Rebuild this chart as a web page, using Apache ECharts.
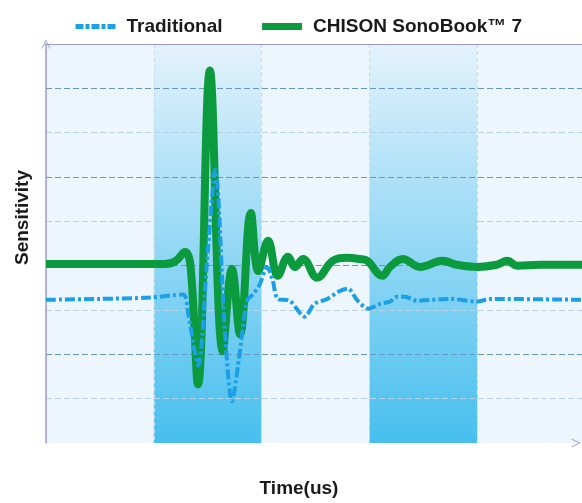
<!DOCTYPE html>
<html>
<head>
<meta charset="utf-8">
<script src="https://cdn.jsdelivr.net/npm/echarts@6/dist/echarts.min.js"></script>
<style>html,body{margin:0;padding:0;background:#fff}#c{width:582px;height:503px}</style>
</head>
<body>
<div id="c"></div>
<script>
// Time (x) in us-like units, sensitivity (y) in grid units
const seriesNames = ['Traditional', 'CHISON SonoBook\u2122 7'];
const xMax = 49.72;
const traditional = [
  [0,3.23],[5.0,3.25],[9.6,3.28],[12.7,3.35],[13.2,2.9],[14.1,1.75],[15.0,4.3],[15.7,6.17],
  [16.6,2.5],[17.25,0.94],[17.9,1.9],[18.65,3.21],[19.2,3.35],[19.85,3.59],[20.5,3.97],
  [21.0,3.7],[21.5,3.25],[22.6,3.21],[24.0,2.85],[24.9,3.14],[26.1,3.25],[27.1,3.41],
  [28.0,3.48],[28.9,3.21],[29.9,3.03],[31.0,3.14],[31.9,3.19],[32.6,3.30],[33.3,3.30],
  [34.4,3.21],[37.5,3.25],[40.0,3.19],[41.2,3.25],[49.72,3.23]
];
const sonobook = [
  [0,4.04],[11.0,4.04],[12.0,4.1],[12.9,4.31],[13.4,4.0],[14.1,1.32],[15.2,8.40],
  [16.4,2.07],[17.25,3.93],[18.0,2.45],[19.0,5.19],[19.7,3.88],[20.6,4.56],[21.5,3.77],
  [22.45,4.20],[23.1,3.97],[23.85,4.15],[25.15,3.73],[26.6,4.11],[27.9,4.18],[29.1,4.15],
  [29.8,4.11],[31.2,3.77],[31.9,3.97],[33.1,4.15],[34.7,3.97],[36.8,4.11],[38.1,4.02],
  [40.0,3.97],[41.8,4.02],[42.8,4.11],[43.7,4.0],[45.8,4.02],[49.72,4.02]
];

const chev = 'path://M0,10 L5,0 L10,10 L9,10 L5,2 L1,10 Z';
const axisPurple = '#9a9ad6';
const bandGrad = new echarts.graphic.LinearGradient(0, 0, 0, 1, [
  {offset: 0, color: '#e4f2fc'},
  {offset: 1, color: '#47bfee'}
]);
const font = '"Liberation Sans", Arial, sans-serif';

const chart = echarts.init(document.getElementById('c'));
chart.setOption({
  animation: false,
  backgroundColor: '#ffffff',
  legend: {
    data: [
      {name: seriesNames[0], lineStyle: {width: 5, type: [8,2,4,2]}},
      {name: seriesNames[1], lineStyle: {width: 7}}
    ],
    left: 68, top: 12,
    itemWidth: 40, itemHeight: 14, itemGap: 36,
    itemStyle: {opacity: 0},
    textStyle: {fontFamily: font, fontWeight: 'bold', fontSize: 19, color: '#1a1a1a', padding: [0,0,0,6]}
  },
  grid: {left: 46, right: 0, top: 44, bottom: 58},
  xAxis: [{
    type: 'value', min: 0, max: xMax, interval: 10, z: 0,
    name: 'Time(us)', nameLocation: 'middle', nameGap: 36,
    nameTextStyle: {fontFamily: font, fontWeight: 'bold', fontSize: 19, color: '#1a1a1a', padding: [0,30,0,0]},
    axisLine: {show: true, symbol: ['none', chev], symbolSize: [12, 9], symbolOffset: [0, -6],
      lineStyle: {color: axisPurple, width: 0}},
    axisTick: {show: false}, axisLabel: {show: false},
    splitLine: {show: true, showMinLine: false, showMaxLine: false,
      lineStyle: {color: '#c3daee', type: [4,3], width: 1}},
    splitArea: {show: true, areaStyle: {color: ['#eef6fd', bandGrad]}}
  }, {
    type: 'value', position: 'top', min: 0, max: xMax, z: 2,
    axisLine: {show: true, lineStyle: {color: axisPurple, width: 1.2}},
    axisTick: {show: false}, axisLabel: {show: false}, splitLine: {show: false}
  }],
  yAxis: {
    type: 'value', min: 0, max: 9, interval: 1, z: 1,
    name: 'Sensitivity', nameLocation: 'middle', nameGap: 14,
    nameTextStyle: {fontFamily: font, fontWeight: 'bold', fontSize: 19, color: '#1a1a1a', padding: [0,0,0,52]},
    axisLine: {show: true, symbol: ['none', chev], symbolSize: [12, 9],
      lineStyle: {color: axisPurple, width: 1.5}},
    axisTick: {show: false}, axisLabel: {show: false},
    splitLine: {show: true, showMinLine: false, showMaxLine: false,
      lineStyle: {color: ['#b7d2e8', '#6698c0'], type: [6,3], width: 1.2}}
  },
  series: [{
    name: seriesNames[1], type: 'line', data: sonobook, symbol: 'none', smooth: 0.4,
    lineStyle: {color: '#0b9a3d', width: 8}, itemStyle: {color: '#0b9a3d'}, z: 3
  }, {
    name: seriesNames[0], type: 'line', data: traditional, symbol: 'none', smooth: 0.3,
    lineStyle: {color: '#1b9fe6', width: 4, type: [10,3,3,3]}, itemStyle: {color: '#1b9fe6'}, z: 4
  }]
});
</script>
</body>
</html>
